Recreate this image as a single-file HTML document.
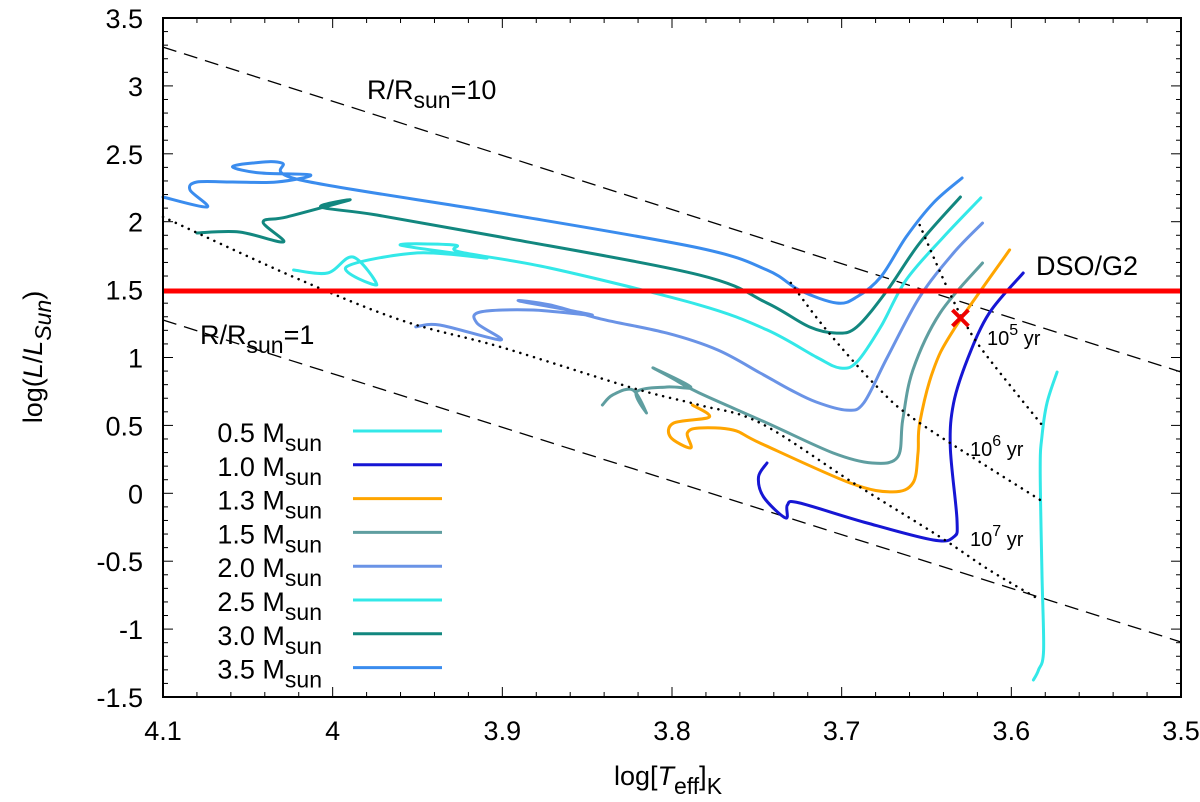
<!DOCTYPE html>
<html><head><meta charset="utf-8"><style>
html,body{margin:0;padding:0;background:#fff}
svg{display:block;font-family:"Liberation Sans",sans-serif}
</style></head><body>
<svg id="c" width="1200" height="802" viewBox="0 0 1200 802"></svg>
<script>
const xTicks=[4.1,4.0,3.9,3.8,3.7,3.6,3.5];
const xTickLabels=["4.1","4","3.9","3.8","3.7","3.6","3.5"];
const yTicks=[3.5,3,2.5,2,1.5,1,0.5,0,-0.5,-1,-1.5];
const yTickLabels=["3.5","3","2.5","2","1.5","1","0.5","0","-0.5","-1","-1.5"];
const massLabels=["0.5","1.0","1.3","1.5","2.0","2.5","3.0","3.5"];
const track05x=[3.573,3.579,3.582,3.583,3.582,3.581,3.584,3.587];
const track05y=[0.893,0.665,0.415,0.172,-0.565,-1.154,-1.301,-1.375];
const track10x=[3.744,3.749,3.746,3.733,3.732,3.725,3.685,3.646,3.634,3.632,3.636,3.634,3.626,3.613,3.593];
const track10y=[0.223,0.120,-0.027,-0.182,-0.086,-0.071,-0.219,-0.344,-0.322,-0.197,0.341,0.665,0.982,1.328,1.622];
const track13x=[3.788,3.778,3.799,3.801,3.789,3.791,3.784,3.764,3.748,3.695,3.670,3.658,3.655,3.654,3.646,3.634,3.601];
const track13y=[0.650,0.562,0.518,0.415,0.334,0.444,0.481,0.466,0.370,0.076,0.010,0.076,0.297,0.518,0.908,1.203,1.792];
const track15x=[3.841,3.835,3.823,3.815,3.821,3.803,3.789,3.811,3.800,3.784,3.744,3.705,3.682,3.667,3.664,3.658,3.642,3.617];
const track15y=[0.650,0.724,0.761,0.591,0.746,0.783,0.783,0.923,0.849,0.739,0.518,0.297,0.223,0.267,0.540,0.908,1.328,1.696];
const track20x=[3.951,3.937,3.901,3.915,3.913,3.882,3.847,3.890,3.872,3.842,3.803,3.773,3.748,3.730,3.715,3.697,3.687,3.673,3.654,3.634,3.617];
const track20y=[1.225,1.239,1.129,1.254,1.335,1.350,1.313,1.416,1.387,1.284,1.180,1.055,0.886,0.761,0.672,0.613,0.665,1.004,1.446,1.770,1.990];
const track25x=[4.023,4.003,3.988,3.974,3.992,3.950,3.909,3.960,3.928,3.925,3.872,3.784,3.744,3.715,3.701,3.691,3.677,3.662,3.640,3.618];
const track25y=[1.644,1.622,1.740,1.534,1.666,1.770,1.733,1.828,1.828,1.777,1.659,1.387,1.203,1.004,0.923,0.967,1.225,1.571,1.887,2.175];
const track30x=[4.080,4.055,4.029,4.041,4.027,3.990,4.007,3.974,3.901,3.784,3.744,3.719,3.703,3.691,3.673,3.654,3.630];
const track30y=[1.917,1.924,1.851,1.998,2.035,2.160,2.108,2.049,1.887,1.608,1.401,1.225,1.180,1.225,1.497,1.843,2.182];
const track35x=[4.100,4.074,4.084,4.080,4.059,4.033,4.013,4.043,4.059,4.047,4.030,4.019,3.901,3.784,3.744,3.725,3.703,3.691,3.677,3.662,3.646,3.629];
const track35y=[2.182,2.108,2.233,2.292,2.292,2.292,2.344,2.359,2.403,2.432,2.432,2.307,2.064,1.806,1.644,1.497,1.401,1.446,1.593,1.887,2.138,2.322];
const iso7x=[4.100,4.023,3.960,3.901,3.823,3.784,3.748,3.693,3.642,3.613,3.583];
const iso7y=[2.035,1.593,1.276,1.077,0.775,0.650,0.518,0.076,-0.322,-0.565,-0.786];
const iso6x=[3.730,3.709,3.679,3.654,3.583];
const iso6y=[1.549,1.203,0.783,0.518,-0.049];
const iso5x=[3.654,3.638,3.626,3.614,3.581];
const iso5y=[1.976,1.519,1.225,1.004,0.488];
const r10x=[4.1,3.5], r10y=[3.286,0.893];
const r1x=[4.1,3.5], r1y=[1.276,-1.095];
const dsoL=1.49;
const g2x=3.630, g2y=1.291;

const L=163,R=1181,T=18,B=697;
const X=v=>L+(4.1-v)/0.6*(R-L);
const Y=v=>T+(3.5-v)/5*(B-T);
const NS="http://www.w3.org/2000/svg";
const svg=document.getElementById('c');
function mk(tag,at,parent){const e=document.createElementNS(NS,tag);for(const k in at)e.setAttribute(k,at[k]);(parent||svg).appendChild(e);return e;}
function pts(xs,ys){return xs.map((v,i)=>X(v).toFixed(1)+","+Y(ys[i]).toFixed(1)).join(" ");}
function smooth(xs,ys){const p=xs.map((v,i)=>[X(v),Y(ys[i])]);let d="M"+p[0][0].toFixed(1)+","+p[0][1].toFixed(1);
for(let i=0;i<p.length-1;i++){const p0=p[Math.max(0,i-1)],p1=p[i],p2=p[i+1],p3=p[Math.min(p.length-1,i+2)];
const c1=[p1[0]+(p2[0]-p0[0])/6,p1[1]+(p2[1]-p0[1])/6],c2=[p2[0]-(p3[0]-p1[0])/6,p2[1]-(p3[1]-p1[1])/6];
d+=" C"+c1.map(v=>v.toFixed(1))+" "+c2.map(v=>v.toFixed(1))+" "+p2.map(v=>v.toFixed(1));}return d;}

// ticks
const tg=mk('g',{stroke:'#000','stroke-width':1});


for(let i=0;i<=30;i++){const x=L+i*(R-L)/30;const len=(i%5==0)?10:5;
 mk('line',{x1:x,y1:B,x2:x,y2:B-len},tg);mk('line',{x1:x,y1:T,x2:x,y2:T+len},tg);}
for(let i=0;i<=50;i++){const y=T+i*(B-T)/50;const len=(i%5==0)?10:5;
 mk('line',{x1:L,y1:y,x2:L+len,y2:y},tg);mk('line',{x1:R,y1:y,x2:R-len,y2:y},tg);}
xTicks.forEach((v,i)=>{const t=mk('text',{x:X(v),y:740,'font-size':27,'text-anchor':'middle'});t.textContent=xTickLabels[i];

});
yTicks.forEach((v,i)=>{const t=mk('text',{x:143,y:Y(v)+10,'font-size':27,'text-anchor':'end'});t.textContent=yTickLabels[i];

});

// radius lines
let e=mk('polyline',{points:pts(r10x,r10y),fill:'none',stroke:'#000','stroke-width':1.3,'stroke-dasharray':'14,8'});


e=mk('polyline',{points:pts(r1x,r1y),fill:'none',stroke:'#000','stroke-width':1.3,'stroke-dasharray':'14,8'});



// tracks
const tracks=[[track05x,track05y,'#33e8e8'],[track10x,track10y,'#1616d4'],[track13x,track13y,'#ffa500'],[track15x,track15y,'#5f9ea0'],[track20x,track20y,'#6a93e6'],[track25x,track25y,'#33e8e8'],[track30x,track30y,'#12877f'],[track35x,track35y,'#3a8cee']];
tracks.forEach((t,i)=>{const p=mk('path',{d:smooth(t[0],t[1]),fill:'none',stroke:t[2],'stroke-width':3,'stroke-linejoin':'round','stroke-linecap':'round'});

});

// isochrones
[[iso7x,iso7y,'isochrone-1e7'],[iso6x,iso6y,'isochrone-1e6'],[iso5x,iso5y,'isochrone-1e5']].forEach(s=>{
const p=mk('path',{d:smooth(s[0],s[1]),fill:'none',stroke:'#000','stroke-width':2.5,'stroke-dasharray':'0.1,7','stroke-linecap':'round'});

});

// DSO line
e=mk('line',{x1:L,x2:R,y1:Y(dsoL),y2:Y(dsoL),stroke:'#f00','stroke-width':5});


// X marker
const gx=X(g2x),gy=Y(g2y);
const xm=mk('g',{stroke:'#e00','stroke-width':4});


mk('line',{x1:gx-8,y1:gy-8,x2:gx+8,y2:gy+8},xm);mk('line',{x1:gx-8,y1:gy+8,x2:gx+8,y2:gy-8},xm);

// frame
e=mk('rect',{x:L,y:T,width:R-L,height:B-T,fill:'none',stroke:'#000','stroke-width':2});



// legend
const lg=mk('g',{});


tracks.forEach((t,i)=>{const y=433+i*33.8;
mk('rect',{x:180,y:y-15,width:270,height:32,fill:'#fff'},lg);
const tx=mk('text',{x:322,y:y+9,'font-size':27,'text-anchor':'end'},lg);


tx.innerHTML=massLabels[i]+' M<tspan dy="9" font-size="23">sun</tspan>';
const ln=mk('line',{x1:353,x2:442,y1:y-2,y2:y-2,stroke:t[2],'stroke-width':3},lg);

});
</script>
<div style="position:absolute;left:0;top:0;width:1200px;height:802px;pointer-events:none">
<svg width="1200" height="802" style="position:absolute;left:0;top:0">
<text x="367" y="99" font-size="27" font-family="Liberation Sans, sans-serif">R/R<tspan dy="9" font-size="23">sun</tspan><tspan dy="-9">=10</tspan></text>
<text x="200" y="344" font-size="27" font-family="Liberation Sans, sans-serif">R/R<tspan dy="9" font-size="23">sun</tspan><tspan dy="-9">=1</tspan></text>
<text x="1036" y="275" font-size="27" font-family="Liberation Sans, sans-serif">DSO/G2</text>
<text x="987" y="345" font-size="20" font-family="Liberation Sans, sans-serif">10<tspan dy="-10" font-size="16">5</tspan><tspan dy="10"> yr</tspan></text>
<text x="970" y="456" font-size="20" font-family="Liberation Sans, sans-serif">10<tspan dy="-10" font-size="16">6</tspan><tspan dy="10"> yr</tspan></text>
<text x="970" y="546" font-size="20" font-family="Liberation Sans, sans-serif">10<tspan dy="-10" font-size="16">7</tspan><tspan dy="10"> yr</tspan></text>
<text x="668" y="785" font-size="27" text-anchor="middle" font-family="Liberation Sans, sans-serif">log[<tspan font-style="italic">T</tspan><tspan dy="9" font-size="23">eff</tspan><tspan dy="-9">]</tspan><tspan dy="9" font-size="23">K</tspan></text>
<text transform="translate(42,357) rotate(-90)" font-size="27" text-anchor="middle" font-family="Liberation Sans, sans-serif">log(<tspan font-style="italic">L</tspan>/<tspan font-style="italic">L</tspan><tspan dy="9" font-size="23" font-style="italic">Sun</tspan><tspan dy="-9">)</tspan></text>
</svg></div>
</body></html>
